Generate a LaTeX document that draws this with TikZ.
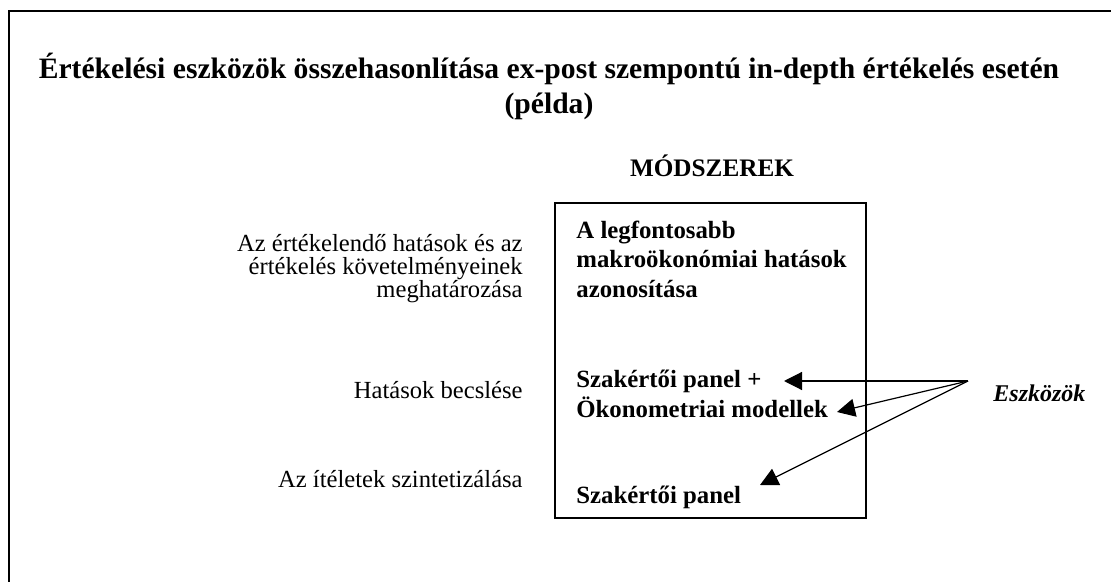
\documentclass[tikz,border=0pt]{standalone}
\usepackage{fontspec}
\setmainfont{Liberation Serif}
\usetikzlibrary{arrows.meta, positioning}

\begin{document}
\begin{tikzpicture}[x=0.5pt, y=-0.5pt,
  lbl/.style = {inner sep=0, align=right, anchor=base east, font=\fontsize{12.3}{11.25}\selectfont},
  boxtxt/.style = {inner sep=0, align=left, anchor=base west, font=\bfseries\fontsize{12.4}{14.6}\selectfont},
  tool/.style = {-{Triangle[length=9pt, width=9pt]}, line width=0.6pt}]

\useasboundingbox (0,0) rectangle (1111,582);
\draw[line width=1.2pt] (9,582) -- (9,11) -- (1111,11);

% title (base = last line)
\node[inner sep=0, anchor=base, align=center, font=\bfseries\fontsize{14.8}{17.5}\selectfont] (title) at (549,114)
  {Értékelési eszközök összehasonlítása ex-post szempontú in-depth értékelés esetén\\(példa)};

\node[inner sep=0, anchor=base, font=\bfseries\fontsize{12.6}{14.6}\selectfont] (mod) at (712,177) {MÓDSZEREK};
\draw[line width=0.6pt] (555,203) rectangle (866,518);

% steps on the left
\node[lbl] (s1) at (523,297) {Az értékelendő hatások és az\\értékelés követelményeinek\\meghatározása};
\node[lbl] (s2) at (523,398) {Hatások becslése};
\node[lbl] (s3) at (523,487) {Az ítéletek szintetizálása};

% methods in the box
\node[boxtxt] (m1) at (576,297) {A legfontosabb\\makroökonómiai hatások\\azonosítása};
\node[boxtxt] (m2) at (576,417) {Szakértői panel +\\Ökonometriai modellek};
\node[boxtxt] (m3) at (576,503) {Szakértői panel};

\node[inner sep=0, anchor=base west, font=\bfseries\itshape\fontsize{12}{14}\selectfont] (esz) at (993,401) {Eszközök};

\coordinate (src) at (968,381);
\coordinate (t1) at (784,381);
\coordinate (t2) at (837,412);
\coordinate (t3) at (760,485);
\draw[tool] (src) -- (t1);
\draw[tool] (src) -- (t2);
\draw[tool] (src) -- (t3);
\end{tikzpicture}
\end{document}
